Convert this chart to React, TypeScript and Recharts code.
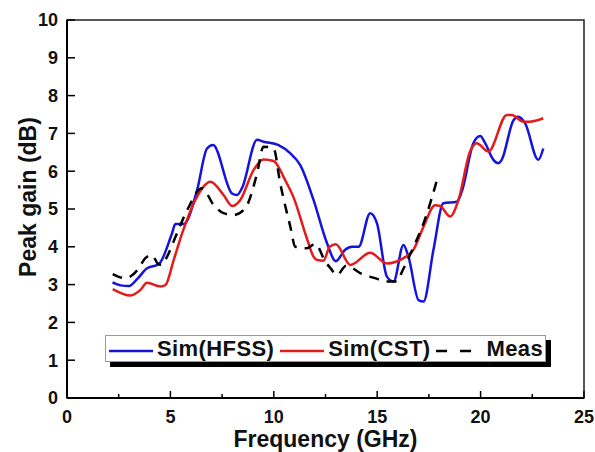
import React from "react";
import {
  Legend,
  Line,
  LineChart,
  ReferenceArea,
  XAxis,
  YAxis,
} from "recharts";

// Sim(HFSS) — frequency (GHz) / peak gain (dB)
const hfssFreq = [
  2.2, 2.6, 3.0, 3.4, 3.87, 4.44, 5.08, 5.24, 5.64, 6.29, 6.77, 7.06, 7.98,
  8.22, 8.46, 9.19, 9.5, 10.23, 10.8, 11.28, 11.92, 12.57, 13.0, 13.45, 13.78,
  14.1, 14.66, 14.99, 15.47, 15.79, 16.27, 16.51, 17.0, 17.24, 17.72, 18.2,
  18.85, 19.09, 19.65, 19.98, 20.22, 20.62, 20.86, 21.02, 21.59, 21.83, 22.15,
  22.79, 23.03,
];
const hfssGain = [
  3.06, 2.98, 2.96, 3.15, 3.43, 3.54, 4.36, 4.6, 4.6, 5.5, 6.6, 6.69, 5.41,
  5.37, 5.55, 6.83, 6.78, 6.69, 6.47, 6.16, 5.24, 4.1, 3.62, 3.92, 4.0, 4.0,
  4.89, 4.62, 3.21, 3.08, 4.05, 3.74, 2.59, 2.55, 3.92, 5.15, 5.19, 5.46, 6.74,
  6.93, 6.74, 6.3, 6.21, 6.3, 7.35, 7.44, 7.27, 6.3, 6.6,
];

// Sim(CST)
const cstFreq = [
  2.21, 3.07, 3.55, 3.87, 4.52, 4.76, 5.16, 5.57, 6.29, 6.93, 7.57, 7.98, 8.38,
  9.02, 9.5, 9.99, 10.31, 10.47, 10.96, 11.6, 11.92, 12.1, 12.4, 12.7, 13.0,
  13.7, 14.66, 15.47, 16.27, 16.75, 17.24, 17.8, 18.04, 18.53, 18.93, 19.49,
  19.81, 20.38, 21.27, 21.51, 22.07, 22.39, 23.03,
];
const cstGain = [
  2.88, 2.71, 2.86, 3.05, 2.95, 2.99, 3.65, 4.36, 5.33, 5.72, 5.37, 5.08, 5.24,
  6.03, 6.31, 6.27, 6.03, 5.85, 5.3, 4.22, 3.74, 3.65, 3.63, 4.0, 4.07, 3.52,
  3.84, 3.56, 3.7, 3.92, 4.53, 5.1, 5.08, 4.8, 5.24, 6.52, 6.74, 6.52, 7.49,
  7.49, 7.31, 7.31, 7.4,
];

// Meas
const measFreq = [
  2.21, 2.83, 3.47, 3.79, 4.11, 4.4, 4.6, 4.84, 5.32, 5.81, 6.53, 7.09, 7.57,
  8.06, 8.62, 9.19, 9.5, 9.99, 10.31, 10.8, 11.04, 11.6, 12.0, 12.5, 12.75,
  13.05, 13.5, 14.26, 15.0, 15.4, 15.95, 16.2, 16.8, 17.24, 17.96,
];
const measGain = [
  3.28, 3.17, 3.43, 3.7, 3.78, 3.55, 3.52, 3.74, 4.36, 4.97, 5.55, 5.11, 4.89,
  4.84, 5.02, 5.94, 6.65, 6.6, 5.68, 4.53, 4.0, 3.96, 4.08, 3.6, 3.43, 3.25,
  3.5, 3.28, 3.15, 3.08, 3.08, 3.34, 4.05, 4.62, 5.9,
];

const xTicks = [0, 2.5, 5, 7.5, 10, 12.5, 15, 17.5, 20, 22.5, 25];
const yTicks = [0, 1, 2, 3, 4, 5, 6, 7, 8, 9, 10];

const zip = (f: number[], g: number[]) => f.map((v, i) => ({ f: v, g: g[i] }));

const series = [
  { name: "Sim(HFSS)", data: zip(hfssFreq, hfssGain), color: "#1414dc", dash: undefined },
  { name: "Sim(CST)", data: zip(cstFreq, cstGain), color: "#e31b1b", dash: undefined },
  { name: "Meas", data: zip(measFreq, measGain), color: "#000000", dash: "10 8" },
];

const font = '"Liberation Sans", Arial, sans-serif';

const XTick = (props: any) => {
  const { x, y, payload } = props;
  const major = payload.value % 5 === 0;
  return (
    <g>
      <line x1={x} x2={x} y1={y} y2={y - (major ? 7 : 4)} stroke="#000" strokeWidth={1.5} />
      {major && (
        <text x={x} y={y + 25} textAnchor="middle" fontFamily={font} fontWeight="bold" fontSize={18} fill="#111">
          {payload.value}
        </text>
      )}
    </g>
  );
};

const YTick = (props: any) => {
  const { x, y, payload } = props;
  return (
    <g>
      <line x1={x} x2={x + 8} y1={y} y2={y} stroke="#000" strokeWidth={1.5} />
      <text x={x - 9} y={y + 6.4} textAnchor="end" fontFamily={font} fontWeight="bold" fontSize={18} fill="#111">
        {payload.value}
      </text>
    </g>
  );
};

const LegendBox = () => (
  <div
    style={{
      width: 441,
      height: 27,
      boxSizing: "border-box",
      border: "1px solid #9a9a9a",
      background: "#fff",
      boxShadow: "5px 5px 0 #000",
      display: "flex",
      alignItems: "center",
      paddingLeft: 3,
      fontFamily: font,
      fontWeight: "bold",
      fontSize: 22,
      letterSpacing: 0.4,
      color: "#111",
      whiteSpace: "nowrap",
      overflow: "hidden",
    }}
  >
    {series.map((s) => {
      const w = s.dash ? 46 : 44;
      return (
        <div key={s.name} style={{ display: "flex", alignItems: "center", marginRight: 6 }}>
          <svg width={w} height={10} style={{ marginRight: 4, marginTop: 4 }}>
            <line x1={0} x2={w} y1={5} y2={5} stroke={s.color} strokeWidth={2.5} strokeDasharray={s.dash ? "11 13" : undefined} />
          </svg>
          <span>{s.name}</span>
        </div>
      );
    })}
  </div>
);

export default function App() {
  return (
    <div style={{ position: "absolute", left: 0, top: 0, background: "#fff" }}>
      <LineChart width={595} height={452} margin={{ top: 20, right: 11, bottom: 0, left: 0 }}>
        <ReferenceArea x1={0} x2={25} y1={0} y2={10} fill="none" stroke="#222" strokeWidth={1.5} />
        <XAxis
          type="number"
          dataKey="f"
          domain={[0, 25]}
          ticks={xTicks}
          interval={0}
          height={54}
          tickSize={0}
          tickMargin={0}
          tick={XTick}
          axisLine={{ stroke: "#000", strokeWidth: 2 }}
          label={{
            content: (p: any) => {
              const vb = p.viewBox;
              return (
                <text x={vb.x + vb.width / 2} y={vb.y + 49} textAnchor="middle" fontFamily={font} fontWeight="bold" fontSize={23} fill="#111">
                  Frequency (GHz)
                </text>
              );
            },
          }}
        />
        <YAxis
          type="number"
          domain={[0, 10]}
          ticks={yTicks}
          interval={0}
          width={67}
          tickSize={0}
          tickMargin={0}
          tick={YTick}
          axisLine={{ stroke: "#000", strokeWidth: 2 }}
          label={{
            content: (p: any) => {
              const vb = p.viewBox;
              const cx = vb.x + 36;
              const cy = vb.y + vb.height / 2 - 12;
              return (
                <text x={cx} y={cy} transform={`rotate(-90, ${cx}, ${cy})`} textAnchor="middle" fontFamily={font} fontWeight="bold" fontSize={23} fill="#111">
                  Peak gain (dB)
                </text>
              );
            },
          }}
        />
        <Legend
          layout="vertical"
          align="center"
          verticalAlign="middle"
          wrapperStyle={{ left: 105, top: 335, width: 441 }}
          content={LegendBox}
        />
        {series.map((s) => (
          <Line
            key={s.name}
            data={s.data}
            dataKey="g"
            name={s.name}
            type="monotone"
            stroke={s.color}
            strokeWidth={2.5}
            strokeDasharray={s.dash}
            dot={false}
            activeDot={false}
            isAnimationActive={false}
          />
        ))}
      </LineChart>
    </div>
  );
}
